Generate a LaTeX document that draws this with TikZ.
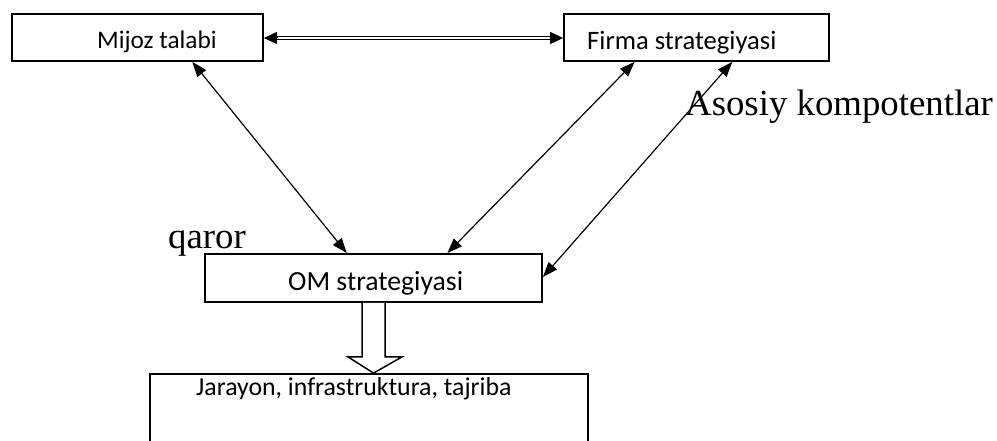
\documentclass[tikz,border=0pt]{standalone}
\usepackage{fontspec}
\setmainfont{Liberation Serif}
\newfontfamily\boxfont{Carlito}
\usetikzlibrary{arrows.meta,calc}
\tikzset{
  boxr/.style={draw=black, line width=1.8pt, fill=white, inner sep=0pt},
  btxt/.style={font=\boxfont\fontsize{#1}{28}\selectfont, anchor=base west, inner sep=0pt},
  stxt/.style={font=\fontsize{36.8}{40}\selectfont, anchor=base west, inner sep=0pt},
  conn/.style={line width=1.2pt, {Triangle[length=15pt,width=11pt]}-{Triangle[length=15pt,width=11pt]}},
  tipl/.style={line width=1pt, {Triangle[length=13pt,width=12pt]}-},
  thin/.style={line width=0.9pt},
  blk/.style={draw=black, line width=1.5pt, fill=white, line join=miter}
}
\begin{document}
\begin{tikzpicture}[x=1pt,y=-1pt]
\useasboundingbox (0,0) rectangle (997,441);
\clip (0,0) rectangle (997,441);
\fill[white] (0,0) rectangle (997,441);

% boxes
\node[boxr, minimum width=251pt, minimum height=47pt] (mijoz) at (137.5,37.5) {};
\node[boxr, minimum width=265pt, minimum height=47pt] (firma) at (696.5,37.5) {};
\node[boxr, minimum width=337pt, minimum height=48pt] (om) at (373.5,278) {};
\node[boxr, minimum width=438pt, minimum height=110pt] (jar) at (369,429) {};

% box texts
\node[btxt=25.3] (tmijoz) at (97,49) {Mijoz talabi};
\node[btxt=26.6] (tfirma) at (587,49.5) {Firma strategiyasi};
\node[btxt=27.7] (tom) at (288,290) {OM strategiyasi};
\node[btxt=25.8] (tjar) at (196,395) {Jarayon, infrastruktura, tajriba};

% free labels
\node[stxt] (qaror) at (168,248) {qaror};
\node[stxt] (asosiy) at (685,116) {Asosiy kompotentlar};

% double-lined arrow between top boxes
\coordinate (dl1) at ($(mijoz.east)+(0,0.5)$);
\coordinate (dl2) at ($(firma.west)+(0,0.5)$);
\draw[thin] ($(dl1)+(10,-1.6)$) -- ($(dl2)+(-10,-1.6)$);
\draw[thin] ($(dl1)+(10,1.6)$) -- ($(dl2)+(-10,1.6)$);
\draw[tipl] (dl1) -- ($(dl1)+(13,0)$);
\draw[tipl] (dl2) -- ($(dl2)+(-13,0)$);

% diagonal double-headed arrows
\draw[conn] ($(mijoz.south west)!0.717!(mijoz.south east)$) -- ($(om.north west)!0.421!(om.north east)$);
\draw[conn] ($(firma.south west)!0.268!(firma.south east)$) -- ($(om.north west)!0.718!(om.north east)$);
\draw[conn] ($(firma.south west)!0.634!(firma.south east)$) -- ($(om.north east)!0.48!(om.south east)$);

% block arrow
\draw[blk] ($(om.south)+(-11.5,0)$) -- ++(0,54) -- ++(-14,0) -- (jar.north -| om.south) -- ($(om.south)+(28.5,54)$) -- ++(-17,0) -- ($(om.south)+(11.5,0)$);
\end{tikzpicture}
\end{document}
